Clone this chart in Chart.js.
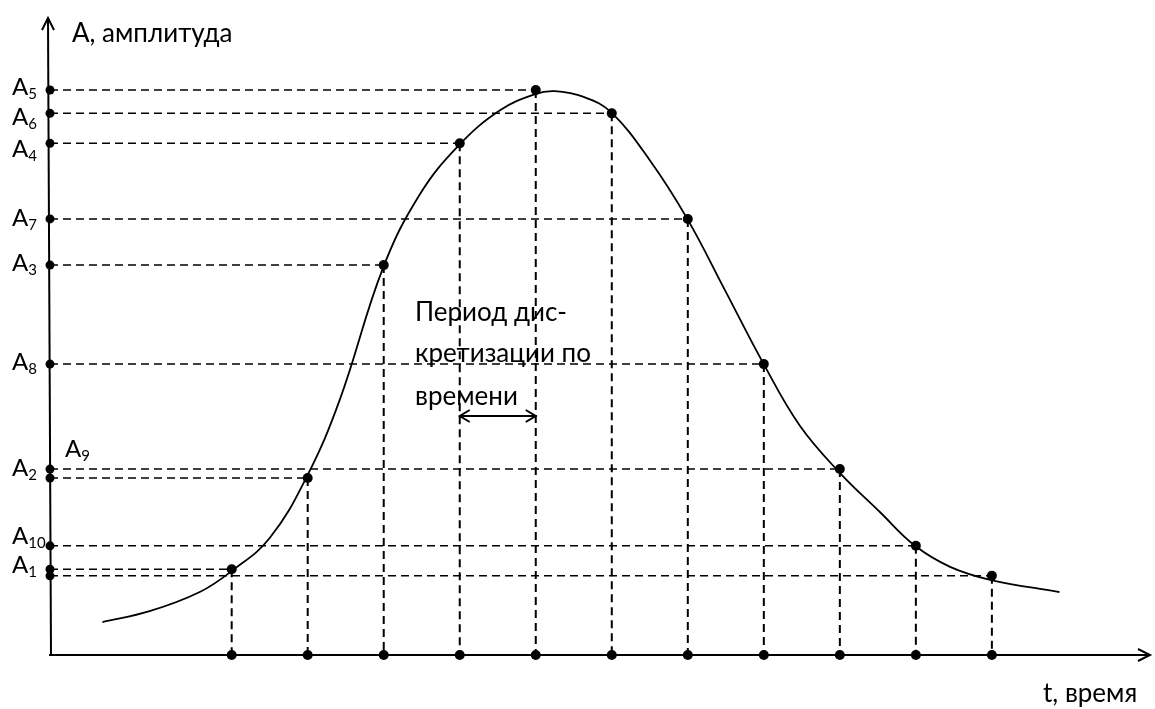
<!DOCTYPE html>
<html>
<head>
<meta charset="utf-8">
<script src="https://cdn.jsdelivr.net/npm/chart.js@4"></script>
<style>
  html,body{margin:0;padding:0;background:#fff;}
  #wrap{width:1155px;height:709px;position:relative;}
</style>
</head>
<body>
<div id="wrap"><canvas id="c"></canvas></div>
<script>
// отсчёты (t = номер отсчёта, A = амплитуда в усл. ед.)
const sampleT   = [1, 2, 3, 4, 5, 6, 7, 8, 9, 10, 11];
const sampleAmp = [1.43, 2.95, 6.5, 8.53, 9.42, 9.03, 7.27, 4.85, 3.1, 1.82, 1.32];
const levelNames = ["1","2","3","4","5","6","7","8","9","10"];

// непрерывный сигнал
const curveT   = [-0.70, -0.08, 0.58, 1.0, 1.5, 1.99, 2.42, 2.99, 3.47, 3.99, 4.53, 4.99, 5.25, 5.64, 5.99, 6.5, 6.99, 7.49, 7.99, 8.47, 8.99, 9.53, 9.99, 10.45, 10.99, 11.89];
const curveAmp = [0.55, 0.73, 1.05, 1.4, 1.95, 2.98, 4.25, 6.45, 7.67, 8.5, 9.08, 9.35, 9.4, 9.3, 9.05, 8.25, 7.28, 6.08, 4.87, 3.83, 3.05, 2.38, 1.82, 1.47, 1.25, 1.05];

const X_MIN = -1.39, X_MAX = 13.08, Y_MAX = 10.62;
const FONT = "Lato, 'Open Sans', sans-serif";
// смещение базовой линии подписи относительно уровня (px)
const labelShift = [4, -2, 6, 14, 5, 12, 7, 6, -12, -2];

const datasets = [];

// пунктирные проекции на оси
sampleT.forEach((t,i)=>{
  datasets.push({
    data:[{x:X_MIN,y:sampleAmp[i]},{x:t,y:sampleAmp[i]}],
    showLine:true, borderColor:"#000", borderWidth:1.5, borderDash:[8,5],
    pointRadius:0, clip:false
  });
  datasets.push({
    data:[{x:t,y:sampleAmp[i]},{x:t,y:0}],
    showLine:true, borderColor:"#000", borderWidth:2, borderDash:[8,5],
    pointRadius:0, clip:false
  });
});

datasets.push({
  data: curveT.map((t,i)=>({x:t,y:curveAmp[i]})),
  showLine:true, borderColor:"#000", borderWidth:1.8, tension:0.4,
  pointRadius:0, clip:false
});

const dot = {showLine:false, pointRadius:5, pointBackgroundColor:"#000", pointBorderWidth:0, clip:false};
datasets.push({...dot, data: sampleT.map((t,i)=>({x:t,y:sampleAmp[i]}))});
datasets.push({...dot, data: sampleT.map(t=>({x:t,y:0}))});
datasets.push({...dot, pointRadius:4.5, data: sampleAmp.map(a=>({x:X_MIN,y:a}))});

const drawAxes = {
  id:"drawAxes",
  afterDatasetsDraw(chart){
    const {ctx, chartArea:a, scales} = chart;
    const x0 = a.left, y0 = a.bottom;
    ctx.save();
    ctx.strokeStyle="#000"; ctx.fillStyle="#000"; ctx.lineWidth=2;
    ctx.beginPath(); ctx.moveTo(x0-1,y0); ctx.lineTo(a.right-2,y0); ctx.stroke();
    ctx.beginPath(); ctx.moveTo(x0+1,y0); ctx.lineTo(x0-2,a.top+2); ctx.stroke();
    // стрелки
    ctx.beginPath(); ctx.moveTo(a.right-12,y0-6); ctx.lineTo(a.right,y0); ctx.lineTo(a.right-12,y0+6); ctx.stroke();
    ctx.beginPath(); ctx.moveTo(x0-8,a.top+12); ctx.lineTo(x0-2,a.top); ctx.lineTo(x0+4,a.top+12); ctx.stroke();

    ctx.textBaseline="alphabetic";
    ctx.font="26px "+FONT;
    ctx.fillText("А, амплитуда", 72, 42);
    ctx.fillText("t, время", 1043, 702);

    // подписи уровней
    levelNames.forEach((n,i)=>{
      const y = scales.y.getPixelForValue(sampleAmp[i]);
      const lx = n==="9" ? 65 : 12;
      const ly = y + labelShift[i];
      ctx.font="24px "+FONT;
      ctx.fillText("A", lx, ly);
      const w = ctx.measureText("A").width;
      ctx.font="15px "+FONT;
      ctx.fillText(n, lx+w, ly+4);
    });

    // период дискретизации
    ctx.font="26px "+FONT;
    ctx.fillText("Период дис-", 415, 321);
    ctx.fillText("кретизации по", 415, 362);
    ctx.fillText("времени", 415, 405);
    const xa = scales.x.getPixelForValue(sampleT[3]), xb = scales.x.getPixelForValue(sampleT[4]);
    const ya = 416;
    ctx.lineWidth=2;
    ctx.beginPath(); ctx.moveTo(xa,ya); ctx.lineTo(xb,ya); ctx.stroke();
    ctx.beginPath(); ctx.moveTo(xa+10,ya-6); ctx.lineTo(xa,ya); ctx.lineTo(xa+10,ya+6); ctx.stroke();
    ctx.beginPath(); ctx.moveTo(xb-10,ya-6); ctx.lineTo(xb,ya); ctx.lineTo(xb-10,ya+6); ctx.stroke();
    ctx.restore();
  }
};

new Chart(document.getElementById("c"), {
  type:"scatter",
  data:{datasets},
  options:{
    responsive:true, maintainAspectRatio:false, animation:false,
    layout:{padding:{left:50,right:5,top:18,bottom:54}},
    plugins:{legend:{display:false}, tooltip:{enabled:false}},
    scales:{
      x:{type:"linear", min:X_MIN, max:X_MAX, display:false},
      y:{type:"linear", min:0, max:Y_MAX, display:false}
    }
  },
  plugins:[drawAxes]
});
</script>
</body>
</html>
